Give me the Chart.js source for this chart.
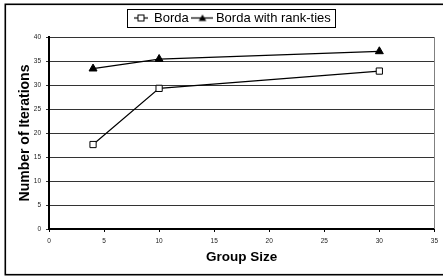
<!DOCTYPE html>
<html>
<head>
<meta charset="utf-8">
<script src="https://cdn.jsdelivr.net/npm/chart.js@4/dist/chart.umd.min.js"></script>
<style>
  html, body { margin: 0; padding: 0; background: #fff; }
  #wrap { width: 443px; height: 277px; position: relative; }
</style>
</head>
<body>
<div id="wrap"><canvas id="c" width="443" height="277"></canvas></div>
<script>
// ---- data ----
const groupSizes = [4, 10, 30];
const bordaIterations = [17.6, 29.3, 32.9];
const bordaTiesIterations = [33.4, 35.4, 37.0];
const seriesNames = ['Borda', 'Borda with rank-ties'];
const xTitle = 'Group Size';
const yTitle = 'Number of Iterations';

const FONT = '"Liberation Sans", Arial, Helvetica, sans-serif';

function toPoints(xs, ys) { return xs.map((x, i) => ({ x: x, y: ys[i] })); }

// legend symbols (line + marker)
function legendSymbol(kind, w) {
  const cv = document.createElement('canvas');
  cv.width = w; cv.height = 9;
  const g = cv.getContext('2d');
  g.strokeStyle = '#000'; g.lineWidth = 1.2;
  g.beginPath(); g.moveTo(0, 4.5); g.lineTo(w, 4.5); g.stroke();
  const cx = w / 2;
  if (kind === 'rect') {
    g.fillStyle = '#fff';
    g.fillRect(cx - 3, 1.5, 6, 6);
    g.lineWidth = 1;
    g.strokeRect(cx - 3 + 0.5, 1.5, 6, 6);
  } else {
    g.fillStyle = '#000';
    g.beginPath(); g.moveTo(cx, 1); g.lineTo(cx + 3.8, 7.5); g.lineTo(cx - 3.8, 7.5); g.closePath(); g.fill();
  }
  return cv;
}
const legendImgs = [legendSymbol('rect', 14), legendSymbol('tri', 22)];

const LEG_PAD = 6.75;
const LEG_FONT = 13;

const framePlugin = {
  id: 'frame',
  afterLayout(chart) {
    const lg = chart.legend;
    if (!lg || !lg.lineWidths) return;
    const start = (lg.left + LEG_PAD + lg.right - lg.lineWidths[0]) / 2;
    const shift = 133.5 - start;
    lg.left += shift; lg.right += shift;
  },
  beforeDraw(chart) {
    const ctx = chart.ctx;
    ctx.save();
    ctx.fillStyle = '#fff';
    ctx.fillRect(0, 0, chart.width, chart.height);
    ctx.restore();
  },
  afterDraw(chart) {
    const ctx = chart.ctx;
    const a = chart.chartArea;
    ctx.save();
    // plot area right border
    ctx.strokeStyle = '#808080';
    ctx.lineWidth = 1;
    ctx.beginPath();
    ctx.moveTo(Math.round(a.right) + 0.5, a.top);
    ctx.lineTo(Math.round(a.right) + 0.5, a.bottom);
    ctx.stroke();
    // legend box
    const lg = chart.legend;
    if (lg && lg.legendHitBoxes && lg.legendHitBoxes.length) {
      const hb = lg.legendHitBoxes;
      const l = hb[0].left - 6.5;
      const r = hb[hb.length - 1].left + hb[hb.length - 1].width + 4;
      ctx.strokeStyle = '#000';
      ctx.lineWidth = 1;
      ctx.strokeRect(Math.round(l) + 0.5, 9.5, Math.round(r - l), 18);
    }
    // outer chart border
    ctx.strokeStyle = '#000';
    ctx.lineWidth = 1.6;
    ctx.strokeRect(5.3, 4.3, 445, 270.4);
    ctx.restore();
  }
};

new Chart(document.getElementById('c'), {
  type: 'line',
  data: {
    datasets: [
      {
        label: seriesNames[0],
        data: toPoints(groupSizes, bordaIterations),
        borderColor: '#000',
        borderWidth: 1.2,
        pointStyle: 'rect',
        pointRadius: 4.4,
        pointBackgroundColor: '#fff',
        pointBorderColor: '#000',
        pointBorderWidth: 1,
        tension: 0,
        fill: false
      },
      {
        label: seriesNames[1],
        data: toPoints(groupSizes, bordaTiesIterations),
        borderColor: '#000',
        borderWidth: 1.2,
        pointStyle: 'triangle',
        pointRadius: 4.6,
        pointBackgroundColor: '#000',
        pointBorderColor: '#000',
        pointBorderWidth: 1,
        tension: 0,
        fill: false
      }
    ]
  },
  options: {
    responsive: false,
    animation: false,
    devicePixelRatio: 1,
    layout: { padding: { top: 4.75, left: 0, right: 4, bottom: 0 } },
    plugins: {
      legend: {
        display: true,
        position: 'top',
        weight: 1000,
        labels: {
          usePointStyle: true,
          pointStyleWidth: 14,
          padding: LEG_PAD,
          color: '#000',
          font: { family: FONT, size: LEG_FONT },
          generateLabels(chart) {
            return chart.data.datasets.map((ds, i) => ({
              text: ds.label,
              pointStyle: legendImgs[i],
              fillStyle: '#000',
              strokeStyle: '#000',
              lineWidth: 0,
              datasetIndex: i,
              hidden: false
            }));
          }
        }
      },
      subtitle: {
        display: true,
        text: '',
        weight: 500,
        padding: 0,
        font: { size: 2.5, lineHeight: 1 }
      },
      title: { display: false },
      tooltip: { enabled: false }
    },
    scales: {
      x: {
        type: 'linear',
        min: 0, max: 35,
        afterFit(scale) { scale.height = 48; },
        ticks: { stepSize: 5, color: '#222', font: { family: FONT, size: 6.5 }, padding: 5, maxRotation: 0 },
        grid: { drawOnChartArea: false, drawTicks: true, tickLength: 3, color: '#000', lineWidth: 1 },
        border: { display: true, color: '#000', width: 2 },
        title: { display: true, text: xTitle, color: '#000', font: { family: FONT, size: 13.5, weight: 'bold' }, padding: { top: 0, bottom: 12 } }
      },
      y: {
        min: 0, max: 40,
        afterFit(scale) { scale.width = 49; },
        ticks: { stepSize: 5, color: '#222', font: { family: FONT, size: 6.5 }, padding: 5 },
        grid: { drawOnChartArea: true, drawTicks: true, tickLength: 3, color: '#333', lineWidth: 1 },
        border: { display: true, color: '#000', width: 2 },
        title: { display: true, text: yTitle, color: '#000', font: { family: FONT, size: 14, weight: 'bold' }, padding: { top: 16.3, bottom: 0 } }
      }
    }
  },
  plugins: [framePlugin]
});
</script>
</body>
</html>
